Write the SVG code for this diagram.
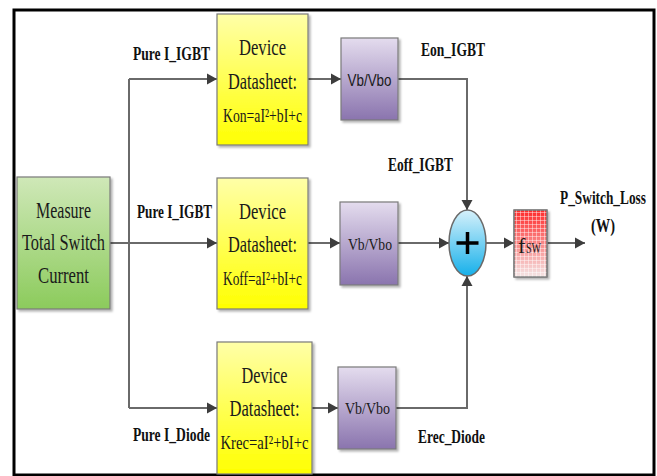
<svg xmlns="http://www.w3.org/2000/svg" width="657" height="476" viewBox="0 0 657 476">
<defs>
<linearGradient id="gYellow" x1="0" y1="0" x2="0" y2="1"><stop offset="0" stop-color="#ffffa8"/><stop offset="1" stop-color="#ffff00"/></linearGradient>
<linearGradient id="gGreen" x1="0" y1="0" x2="0" y2="1"><stop offset="0" stop-color="#cfe8b8"/><stop offset="1" stop-color="#8ccb5c"/></linearGradient>
<linearGradient id="gPurple" x1="0" y1="0" x2="0" y2="1"><stop offset="0" stop-color="#e4dcee"/><stop offset="1" stop-color="#8a74ae"/></linearGradient>
<linearGradient id="gBlue" x1="0" y1="0" x2="0" y2="1"><stop offset="0" stop-color="#d6f1fb"/><stop offset="1" stop-color="#16b0ea"/></linearGradient>
<linearGradient id="gRed" x1="0" y1="0" x2="0" y2="1"><stop offset="0" stop-color="#ff2a2a"/><stop offset="1" stop-color="#f4e6e6"/></linearGradient>
<pattern id="grid" width="4" height="4" patternUnits="userSpaceOnUse"><path d="M0 0.5H4M0.5 0V4" stroke="#ffffff" stroke-opacity="0.55" stroke-width="0.8" fill="none"/></pattern>
<filter id="sh" x="-10%" y="-10%" width="130%" height="130%"><feDropShadow dx="2" dy="2" stdDeviation="1" flood-color="#000" flood-opacity="0.3"/></filter>
<marker id="arr" markerUnits="userSpaceOnUse" markerWidth="12" markerHeight="12" refX="10" refY="6" orient="auto"><path d="M0 0.5L10 6L0 11.5Z" fill="#3d3d3d"/></marker>
</defs>
<style>
.box{stroke:#7a7a7a;stroke-width:1.2;filter:url(#sh)}
.con{fill:none;stroke:#6a6a6a;stroke-width:2}
.t{font-family:"Liberation Serif","Times New Roman",serif;fill:#1a1a1a;text-anchor:middle}
.big{font-size:24px}
.eq{font-size:19px}
.lbl{font-family:"Liberation Serif","Times New Roman",serif;font-weight:bold;font-size:19px;fill:#111}
.vb{font-size:16px}
</style>
<rect x="14" y="10" width="640" height="465" fill="#fff" stroke="#000" stroke-width="3"/>

<g id="connectors">
<path class="con" d="M110 243H217" marker-end="url(#arr)"/>
<path class="con" d="M129 79V408"/>
<path class="con" d="M129 79H217" marker-end="url(#arr)"/>
<path class="con" d="M129 408H217" marker-end="url(#arr)"/>
<path class="con" d="M308 79H341" marker-end="url(#arr)"/>
<path class="con" d="M308 243H340" marker-end="url(#arr)"/>
<path class="con" d="M312 408H338" marker-end="url(#arr)"/>
<path class="con" d="M398 79H467V210" marker-end="url(#arr)"/>
<path class="con" d="M398 243H449" marker-end="url(#arr)"/>
<path class="con" d="M396 408H467V276" marker-end="url(#arr)"/>
<path class="con" d="M486 243H514" marker-end="url(#arr)"/>
<path class="con" d="M547 243H585" marker-end="url(#arr)"/>
</g>

<g id="measure">
<rect class="box" x="17" y="177" width="93" height="132" fill="url(#gGreen)"/>
<text class="t big" x="63.5" y="218" textLength="55" lengthAdjust="spacingAndGlyphs">Measure</text>
<text class="t big" x="63.5" y="250" textLength="83" lengthAdjust="spacingAndGlyphs">Total Switch</text>
<text class="t big" x="63.5" y="283" textLength="51" lengthAdjust="spacingAndGlyphs">Current</text>
</g>

<g id="datasheet-on">
<rect class="box" x="217" y="14" width="91" height="131" fill="url(#gYellow)"/>
<text class="t big" x="262.5" y="55" textLength="47" lengthAdjust="spacingAndGlyphs">Device</text>
<text class="t big" x="262.5" y="89" textLength="69" lengthAdjust="spacingAndGlyphs">Datasheet:</text>
<text class="t eq" x="262.5" y="122" textLength="79" lengthAdjust="spacingAndGlyphs">Kon=aI²+bI+c</text>
</g>

<g id="datasheet-off">
<rect class="box" x="217" y="178" width="91" height="131" fill="url(#gYellow)"/>
<text class="t big" x="262.5" y="219" textLength="47" lengthAdjust="spacingAndGlyphs">Device</text>
<text class="t big" x="262.5" y="252" textLength="69" lengthAdjust="spacingAndGlyphs">Datasheet:</text>
<text class="t eq" x="262.5" y="285" textLength="79" lengthAdjust="spacingAndGlyphs">Koff=aI²+bI+c</text>
</g>

<g id="datasheet-rec">
<rect class="box" x="217" y="342" width="95" height="132" fill="url(#gYellow)"/>
<text class="t big" x="264.5" y="383" textLength="46" lengthAdjust="spacingAndGlyphs">Device</text>
<text class="t big" x="264.5" y="416" textLength="70" lengthAdjust="spacingAndGlyphs">Datasheet:</text>
<text class="t eq" x="264.5" y="449" textLength="88" lengthAdjust="spacingAndGlyphs">Krec=aI²+bI+c</text>
</g>

<g id="vb1">
<rect class="box" x="341" y="38" width="57" height="82" fill="url(#gPurple)"/>
<text class="t vb" x="369.5" y="86" textLength="44" lengthAdjust="spacingAndGlyphs" style="font-family:'Liberation Sans',Arial,sans-serif">Vb/Vbo</text>
</g>
<g id="vb2">
<rect class="box" x="340" y="202" width="58" height="83" fill="url(#gPurple)"/>
<text class="t vb" x="370" y="250" textLength="44" lengthAdjust="spacingAndGlyphs">Vb/Vbo</text>
</g>
<g id="vb3">
<rect class="box" x="338" y="367" width="58" height="82" fill="url(#gPurple)"/>
<text class="t vb" x="367.5" y="414" textLength="45" lengthAdjust="spacingAndGlyphs">Vb/Vbo</text>
</g>

<g id="sum">
<ellipse cx="467.5" cy="243" rx="18.5" ry="33" fill="url(#gBlue)" stroke="#6a6a6a" stroke-width="1.5"/>
<path d="M467.5 232V254M456.5 243H478.5" stroke="#000" stroke-width="3.5" fill="none"/>
</g>

<g id="fsw">
<rect class="box" x="514" y="210" width="33" height="67" fill="url(#gRed)"/>
<rect x="514" y="210" width="33" height="67" fill="url(#grid)"/>
<rect x="514" y="210" width="33" height="67" fill="none" stroke="#7a7a7a" stroke-width="1.2"/>
<text x="518" y="253" style="font-family:'Liberation Serif','Times New Roman',serif;font-size:22px;fill:#1a1a1a">f</text>
<text x="526" y="253" textLength="15" lengthAdjust="spacingAndGlyphs" style="font-family:'Liberation Serif','Times New Roman',serif;font-size:14px;fill:#1a1a1a">SW</text>
</g>

<g id="labels">
<text class="lbl" x="133" y="60" textLength="77" lengthAdjust="spacingAndGlyphs">Pure I_IGBT</text>
<text class="lbl" x="137" y="218" textLength="75" lengthAdjust="spacingAndGlyphs">Pure I_IGBT</text>
<text class="lbl" x="133" y="441" textLength="77" lengthAdjust="spacingAndGlyphs">Pure I_Diode</text>
<text class="lbl" x="421" y="56" textLength="64" lengthAdjust="spacingAndGlyphs">Eon_IGBT</text>
<text class="lbl" x="388" y="171" textLength="65" lengthAdjust="spacingAndGlyphs">Eoff_IGBT</text>
<text class="lbl" x="418" y="443" textLength="67" lengthAdjust="spacingAndGlyphs">Erec_Diode</text>
<text class="lbl" x="560" y="204" textLength="86" lengthAdjust="spacingAndGlyphs">P_Switch_Loss</text>
<text class="lbl" x="603" y="232" text-anchor="middle" textLength="24" lengthAdjust="spacingAndGlyphs">(W)</text>
</g>
</svg>
